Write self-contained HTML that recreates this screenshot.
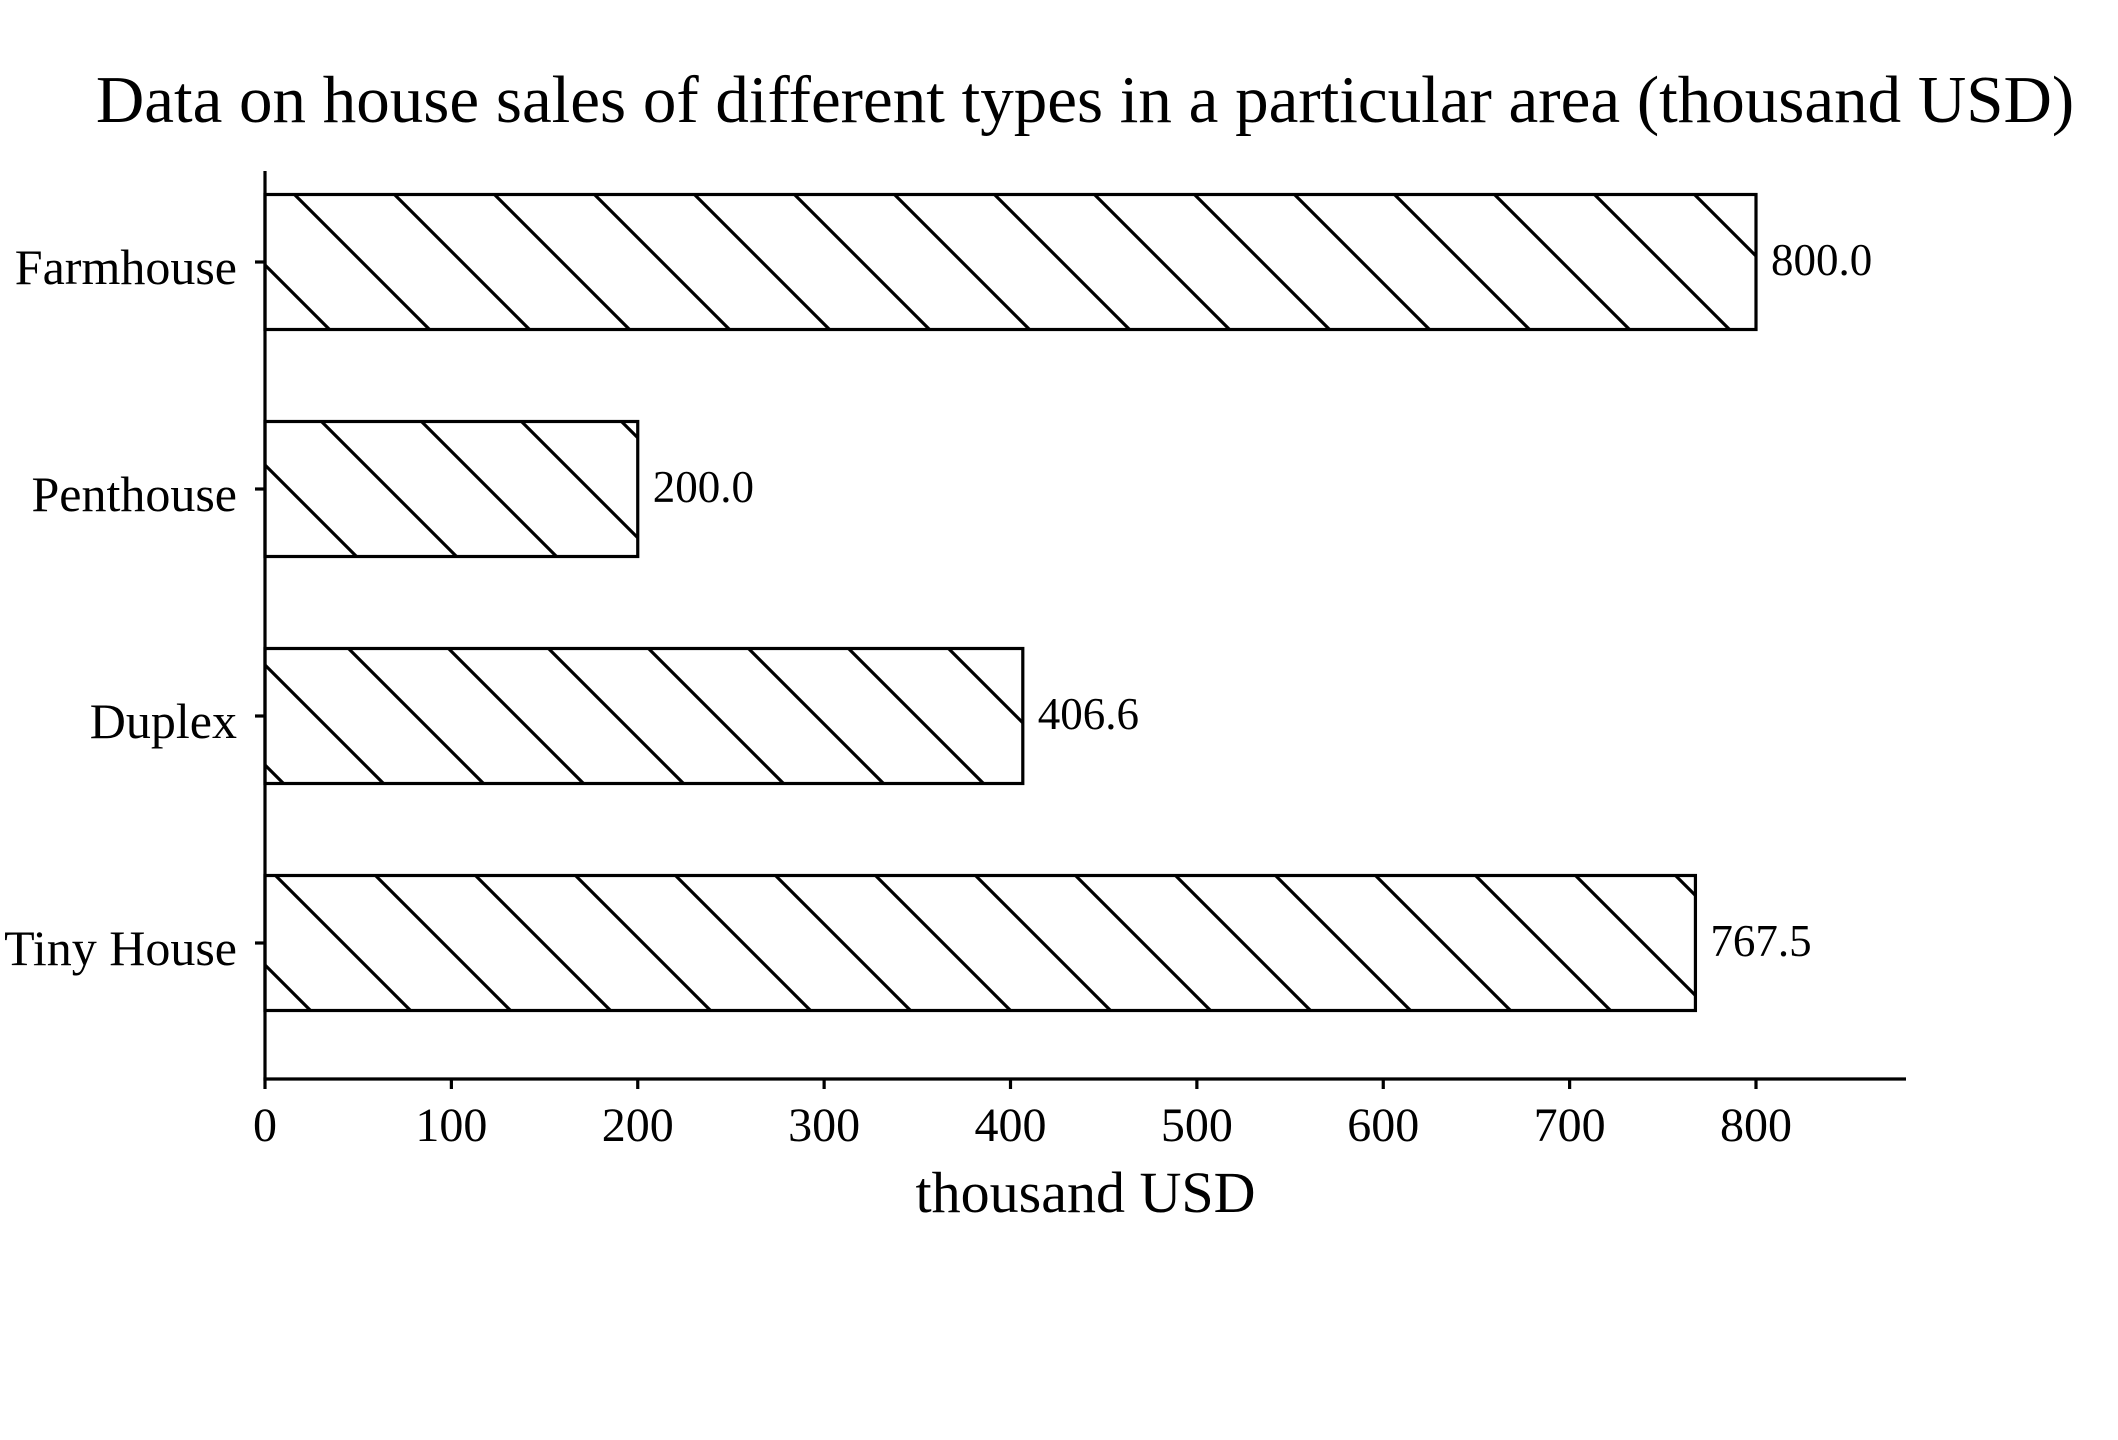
<!DOCTYPE html>
<html><head><meta charset="utf-8"><style>
html,body{margin:0;padding:0;background:#fff;}
svg{display:block;font-family:"Liberation Serif",serif;}
</style></head><body>
<svg id="chart" width="2118" height="1440" viewBox="0 0 2118 1440">
<defs>
<pattern id="hatch" patternUnits="userSpaceOnUse" width="100" height="100">
<line x1="-100" y1="0" x2="100" y2="200" stroke="#000" stroke-width="3.2"/>
<line x1="0" y1="0" x2="100" y2="100" stroke="#000" stroke-width="3.2"/>
<line x1="0" y1="-100" x2="200" y2="100" stroke="#000" stroke-width="3.2"/>
</pattern>
</defs>
<text x="1085" y="122" font-size="67" text-anchor="middle">Data on house sales of different types in a particular area (thousand USD)</text>
<g id="plot"></g>
</svg>
<script>
const categories = ["Farmhouse", "Penthouse", "Duplex", "Tiny House"];
const values = [800.0, 200.0, 406.6, 767.5];
const labels = ["800.0", "200.0", "406.6", "767.5"];
const xTicks = [0, 100, 200, 300, 400, 500, 600, 700, 800];

const NS = "http://www.w3.org/2000/svg";
const g = document.getElementById("plot");
const x0 = 265, x800 = 1756;
const xs = v => x0 + v * (x800 - x0) / 800;
const yTop = 262, yStep = 227, barH = 135;
const ys = i => yTop + i * yStep;
const axisBottom = 1079, axisTop = 171, axisRight = 1906;

function mk(tag, attrs) {
  const e = document.createElementNS(NS, tag);
  for (const k in attrs) e.setAttribute(k, attrs[k]);
  g.appendChild(e);
  return e;
}

categories.forEach((c, i) => {
  const cy = ys(i);
  const r = mk("rect", {x: xs(0), y: cy - barH / 2, width: xs(values[i]) - xs(0), height: barH, fill: "url(#hatch)", stroke: "#000", "stroke-width": 3.2});
  
  
  const t = mk("text", {x: xs(values[i]) + 15, y: cy + 13, "font-size": 45});
  t.textContent = labels[i];
  
  
  const tk = mk("line", {x1: x0 - 10, y1: cy, x2: x0, y2: cy, stroke: "#000", "stroke-width": 3.2});
  
  
  const yl = mk("text", {x: x0 - 28, y: cy + 22, "font-size": 50, "text-anchor": "end"});
  yl.textContent = c;
  
  
});

xTicks.forEach(v => {
  const tk = mk("line", {x1: xs(v), y1: axisBottom, x2: xs(v), y2: axisBottom + 10, stroke: "#000", "stroke-width": 3.2});
  
  
  const t = mk("text", {x: xs(v), y: axisBottom + 62, "font-size": 48, "text-anchor": "middle"});
  t.textContent = v;
  
  
});

const ya = mk("line", {x1: x0, y1: axisTop, x2: x0, y2: axisBottom, stroke: "#000", "stroke-width": 3.2});


const xa = mk("line", {x1: x0 - 1.6, y1: axisBottom, x2: axisRight, y2: axisBottom, stroke: "#000", "stroke-width": 3.2});


const xt = mk("text", {x: (x0 + axisRight) / 2, y: 1212, "font-size": 58, "text-anchor": "middle"});
xt.textContent = "thousand USD";


</script>
</body></html>
